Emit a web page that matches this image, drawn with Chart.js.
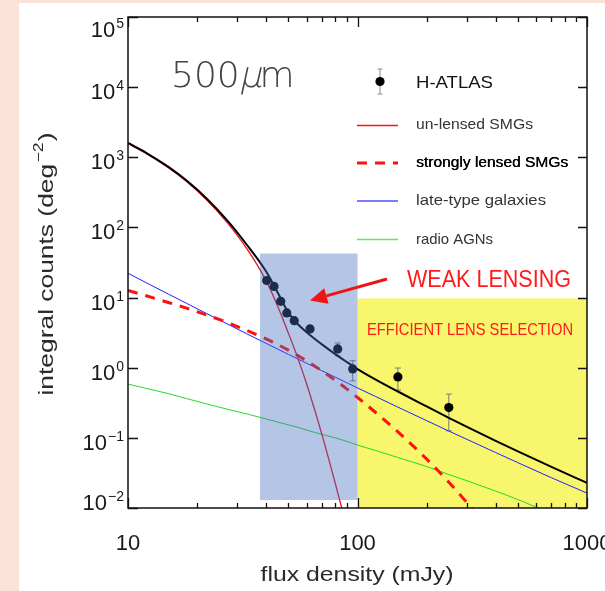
<!DOCTYPE html>
<html>
<head>
<meta charset="utf-8">
<script src="https://cdn.jsdelivr.net/npm/chart.js@4.4.1/dist/chart.umd.min.js"></script>
<style>
  html, body { margin: 0; padding: 0; background: #fae3d6; }
  canvas { display: block; }
</style>
</head>
<body>
<canvas id="counts" width="605" height="591"></canvas>
<script>
// flux grid (mJy) shared by the model curves
const fluxGrid = [10, 12, 15, 18, 22, 27, 33, 40, 45, 50, 55, 60, 70, 80, 90, 100, 120, 150, 200, 250, 300, 400, 500, 700, 1000];

// integral counts (deg^-2)
const totalModel = [1605, 1160, 729, 466, 259, 127, 56.2, 23.5, 11.6, 6.1, 4.17, 3.21, 2.15, 1.56, 1.20, 0.957, 0.678, 0.458, 0.281, 0.193, 0.143, 0.0904, 0.064, 0.0386, 0.0228];
const unlensedSMG = [1570, 1132, 708, 450, 247, 118, 49.4, 17.3, 7.41, 3.11, 1.36, 0.590, 0.111, 0.0224, 0.0052, null, null, null, null, null, null, null, null, null, null];
const lensedSMG = [12.6, 10.6, 8.51, 7.06, 5.66, 4.43, 3.39, 2.57, 2.13, 1.78, 1.49, 1.25, 0.898, 0.661, 0.495, 0.376, 0.230, 0.122, 0.0499, 0.0233, 0.0119, 0.0038, null, null, null];
const lateType = [22.2, 16.3, 11.2, 8.27, 5.93, 4.23, 3.03, 2.22, 1.84, 1.55, 1.33, 1.16, 0.906, 0.733, 0.608, 0.515, 0.388, 0.274, 0.176, 0.125, 0.0951, 0.0617, 0.0443, 0.0270, 0.0163];
const radioAGN = [0.585, 0.507, 0.427, 0.363, 0.305, 0.257, 0.219, 0.186, 0.168, 0.153, 0.141, 0.129, 0.112, 0.10, 0.089, 0.079, 0.066, 0.0525, 0.039, 0.030, 0.0245, 0.0174, 0.0132, 0.0083, null];

// H-ATLAS counts with error bars
const fluxObs = [40.2, 43.3, 46.3, 49.2, 53.0, 62.1, 82.0, 95.3, 150, 250];
const countsObs = [17.5, 14.4, 8.85, 6.04, 4.69, 3.57, 1.85, 0.96, 0.74, 0.27];
const countsLo = [16.3, 13.4, 8.2, 5.6, 4.3, 3.2, 1.48, 0.65, 0.48, 0.126];
const countsHi = [18.8, 15.5, 9.5, 6.5, 5.1, 3.95, 2.25, 1.26, 0.99, 0.42];

// shaded regions [xmin, xmax, ymin, ymax]
const weakBox = [37.6, 100, 0.013, 42.5];
const effBox = [100, 1000, 0.01, 9.7];

// axis ticks
const yTickExp = [-2, -1, 0, 1, 2, 3, 4, 5];
const xMajor = [10, 100, 1000];
const xMinor = [20, 30, 40, 50, 60, 70, 80, 90, 200, 300, 400, 500, 600, 700, 800, 900];

const FONT = "'Liberation Sans', Arial, sans-serif";

function pts(ys) {
    return fluxGrid.map((f, i) => ({ x: f, y: ys[i] }));
}

// draw text squeezed/stretched to a given width
function fitText(ctx, txt, x, y, w, align) {
    const m = ctx.measureText(txt).width;
    ctx.save();
    let x0 = x;
    if (align === 'center') x0 = x - w / 2;
    else if (align === 'right') x0 = x - w;
    ctx.translate(x0, y);
    ctx.scale(w / m, 1);
    ctx.textAlign = 'left';
    ctx.fillText(txt, 0, 0);
    ctx.restore();
}

const decorPlugin = {
    id: 'decor',
    beforeDraw(chart) {
        const c = chart.ctx;
        c.save();
        c.fillStyle = '#fae3d6';
        c.fillRect(0, 0, chart.width, chart.height);
        c.fillStyle = '#ffffff';
        c.fillRect(19, 3, chart.width - 19, chart.height - 3);
        c.restore();
    },
    beforeDatasetsDraw(chart) {
        const c = chart.ctx, xs = chart.scales.x, ys = chart.scales.y;
        c.save();
        // yellow region
        const x0 = xs.getPixelForValue(effBox[0]), x1 = xs.getPixelForValue(effBox[1]);
        const y0 = ys.getPixelForValue(effBox[3]), y1 = ys.getPixelForValue(effBox[2]);
        c.fillStyle = '#f8f66c';
        c.fillRect(x0, y0, x1 - x0, y1 - y0);

        // error bars
        c.strokeStyle = '#7a7a7a';
        c.lineWidth = 1;
        fluxObs.forEach((f, i) => {
            const px = xs.getPixelForValue(f);
            const pl = ys.getPixelForValue(countsLo[i]);
            const ph = ys.getPixelForValue(countsHi[i]);
            c.beginPath();
            c.moveTo(px, pl); c.lineTo(px, ph);
            c.moveTo(px - 3, pl); c.lineTo(px + 3, pl);
            c.moveTo(px - 3, ph); c.lineTo(px + 3, ph);
            c.stroke();
        });
        c.restore();
    },
    afterDatasetsDraw(chart) {
        const c = chart.ctx, xs = chart.scales.x, ys = chart.scales.y;
        const a = chart.chartArea;
        c.save();

        // translucent blue region over the curves
        const bx0 = xs.getPixelForValue(weakBox[0]), bx1 = xs.getPixelForValue(weakBox[1]);
        const by0 = ys.getPixelForValue(weakBox[3]), by1 = ys.getPixelForValue(weakBox[2]);
        c.fillStyle = 'rgba(70,110,190,0.40)';
        c.fillRect(bx0, by0, bx1 - bx0, by1 - by0);

        // frame
        c.strokeStyle = '#111';
        c.lineWidth = 1.5;
        c.strokeRect(a.left, a.top, a.right - a.left, a.bottom - a.top);

        // ticks
        c.lineWidth = 1.3;
        c.beginPath();
        yTickExp.forEach(e => {
            const py = Math.round(ys.getPixelForValue(Math.pow(10, e))) + 0.5;
            c.moveTo(a.left, py); c.lineTo(a.left + 10, py);
            c.moveTo(a.right, py); c.lineTo(a.right - 9, py);
        });
        xMajor.forEach(v => {
            const px = Math.round(xs.getPixelForValue(v)) + 0.5;
            c.moveTo(px, a.bottom); c.lineTo(px, a.bottom - 10);
            c.moveTo(px, a.top); c.lineTo(px, a.top + 10);
        });
        xMinor.forEach(v => {
            const px = Math.round(xs.getPixelForValue(v)) + 0.5;
            c.moveTo(px, a.bottom); c.lineTo(px, a.bottom - 5);
            c.moveTo(px, a.top); c.lineTo(px, a.top + 5);
        });
        c.stroke();

        // y tick labels 10^n
        c.fillStyle = '#1a1a1a';
        c.textBaseline = 'alphabetic';
        yTickExp.forEach((e, i) => {
            const py = ys.getPixelForValue(Math.pow(10, e));
            let off = 12;
            if (i === 0) off = 2;
            if (i === yTickExp.length - 1) off = 20;
            const base = py + off;
            const es = e < 0 ? '\u2212' + (-e) : String(e);
            c.font = '22px ' + FONT;
            const wb = c.measureText('10').width;
            c.font = '14px ' + FONT;
            const we = c.measureText(es).width;
            const start = 124 - wb - we - 1;
            c.font = '22px ' + FONT;
            c.textAlign = 'left';
            c.fillText('10', start, base);
            c.font = '14px ' + FONT;
            c.fillText(es, start + wb + 1, base - 9);
        });

        // x tick labels
        c.font = '22px ' + FONT;
        c.textAlign = 'center';
        xMajor.forEach(v => {
            c.fillText(String(v), xs.getPixelForValue(v), 550);
        });

        // axis titles
        c.fillStyle = '#2a2a2a';
        c.font = '21px ' + FONT;
        fitText(c, 'flux density (mJy)', 357, 581, 193, 'center');

        c.save();
        c.translate(53, 264);
        c.rotate(-Math.PI / 2);
        c.font = '21px ' + FONT;
        const t1 = 'integral counts (deg', t2 = '\u22122', t3 = ')';
        const w1 = c.measureText(t1).width, w3 = c.measureText(t3).width;
        c.font = '14px ' + FONT;
        const w2 = c.measureText(t2).width;
        const tot = w1 + w2 + w3 + 2;
        const k = 263 / tot;
        c.scale(k, 1);
        let xx = -tot / 2;
        c.textAlign = 'left';
        c.font = '21px ' + FONT;
        c.fillText(t1, xx, 0); xx += w1 + 1;
        c.font = '14px ' + FONT;
        c.fillText(t2, xx, -10); xx += w2 + 1;
        c.font = '21px ' + FONT;
        c.fillText(t3, xx, 0);
        c.restore();

        // 500 micron label (mu slanted by hand)
        c.fillStyle = '#444';
        c.textAlign = 'left';
        c.font = "200 36px 'DejaVu Sans', sans-serif";
        const wa = c.measureText('500').width;
        const wm = c.measureText('\u03bc').width;
        c.fillText('500', 171, 87);
        c.save();
        c.translate(171 + wa - 1, 87);
        c.transform(1, 0, -0.22, 1, 0, 0);
        c.fillText('\u03bc', 0, 0);
        c.restore();
        c.fillText('m', 171 + wa + wm - 3, 87);

        // annotations
        c.fillStyle = '#ff1a1a';
        c.font = '23px ' + FONT;
        fitText(c, 'WEAK LENSING', 407, 287, 164, 'left');
        c.font = '17px ' + FONT;
        fitText(c, 'EFFICIENT LENS SELECTION', 367, 335, 206, 'left');

        // arrow
        c.strokeStyle = '#f01414';
        c.fillStyle = '#f01414';
        c.lineWidth = 3;
        const ax0 = 387, ay0 = 279, ax1 = 310, ay1 = 300.5;
        const ang = Math.atan2(ay1 - ay0, ax1 - ax0);
        const hl = 17, hw = 8;
        const bxh = ax1 - hl * Math.cos(ang), byh = ay1 - hl * Math.sin(ang);
        c.beginPath();
        c.moveTo(ax0, ay0); c.lineTo(bxh, byh);
        c.stroke();
        c.beginPath();
        c.moveTo(ax1, ay1);
        c.lineTo(bxh + hw * Math.sin(ang), byh - hw * Math.cos(ang));
        c.lineTo(bxh - hw * Math.sin(ang), byh + hw * Math.cos(ang));
        c.closePath();
        c.fill();

        // legend
        c.strokeStyle = '#888';
        c.lineWidth = 1;
        c.beginPath();
        c.moveTo(380, 69); c.lineTo(380, 94);
        c.moveTo(377.5, 69); c.lineTo(382.5, 69);
        c.moveTo(377.5, 94); c.lineTo(382.5, 94);
        c.stroke();
        c.fillStyle = '#000';
        c.beginPath();
        c.arc(380, 81.5, 4.6, 0, Math.PI * 2);
        c.fill();
        c.fillStyle = '#111';
        c.font = '17px ' + FONT;
        fitText(c, 'H-ATLAS', 416, 87.5, 77, 'left');

        const legendRows = [
            { label: 'un-lensed SMGs', color: '#ff1010', dash: [], y: 125.5, base: 129, w: 117 },
            { label: 'strongly lensed SMGs', color: '#ff1010', dash: [10, 8], y: 163, base: 167.3, w: 152, bold: true },
            { label: 'late-type galaxies', color: '#5050ff', dash: [], y: 201, base: 205.3, w: 130 },
            { label: 'radio AGNs', color: '#55ee55', dash: [], y: 239.5, base: 243.7, w: 77 }
        ];
        legendRows.forEach(r => {
            c.strokeStyle = r.color;
            c.lineWidth = r.bold ? 3 : 1.5;
            c.setLineDash(r.dash);
            c.beginPath();
            c.moveTo(357, r.y); c.lineTo(398, r.y);
            c.stroke();
            c.setLineDash([]);
            c.fillStyle = r.bold ? '#000' : '#333';
            c.font = '15px ' + FONT;
            fitText(c, r.label, 416, r.base, r.w, 'left');
            if (r.bold) fitText(c, r.label, 416.4, r.base, r.w, 'left');
        });

        c.restore();
    }
};

const ctx = document.getElementById('counts').getContext('2d');
const countsChart = new Chart(ctx, {
    type: 'line',
    data: {
        datasets: [
            {
                label: 'H-ATLAS',
                data: fluxObs.map((f, i) => ({ x: f, y: countsObs[i] })),
                showLine: false,
                pointRadius: 4.6,
                pointBackgroundColor: '#000',
                pointBorderWidth: 0,
                order: 0
            },
            {
                label: 'total',
                data: pts(totalModel),
                borderColor: '#000',
                borderWidth: 2,
                pointRadius: 0,
                cubicInterpolationMode: 'monotone',
                order: 1
            },
            {
                label: 'un-lensed SMGs',
                data: pts(unlensedSMG),
                borderColor: '#e8101a',
                borderWidth: 1.3,
                pointRadius: 0,
                cubicInterpolationMode: 'monotone',
                order: 2
            },
            {
                label: 'strongly lensed SMGs',
                data: pts(lensedSMG),
                borderColor: '#ff1010',
                borderWidth: 3,
                borderDash: [10, 8],
                pointRadius: 0,
                cubicInterpolationMode: 'monotone',
                order: 3
            },
            {
                label: 'late-type galaxies',
                data: pts(lateType),
                borderColor: '#2020ff',
                borderWidth: 1,
                pointRadius: 0,
                cubicInterpolationMode: 'monotone',
                order: 4
            },
            {
                label: 'radio AGNs',
                data: pts(radioAGN),
                borderColor: '#22dd22',
                borderWidth: 1,
                pointRadius: 0,
                cubicInterpolationMode: 'monotone',
                order: 5
            }
        ]
    },
    options: {
        responsive: false,
        animation: false,
        layout: { padding: { left: 128, right: 18, top: 17, bottom: 83 } },
        scales: {
            x: { type: 'logarithmic', min: 10, max: 1000, display: false },
            y: { type: 'logarithmic', min: 0.01, max: 100000, display: false }
        },
        plugins: {
            legend: { display: false },
            tooltip: { enabled: false }
        }
    },
    plugins: [decorPlugin]
});
</script>
</body>
</html>
